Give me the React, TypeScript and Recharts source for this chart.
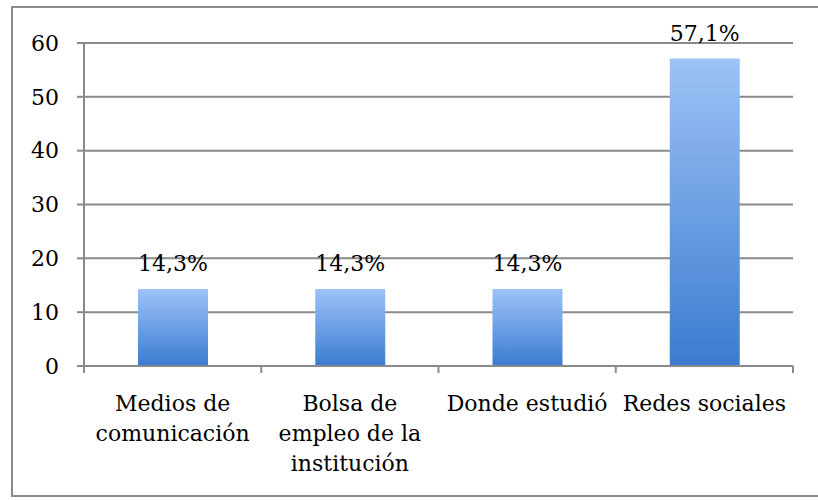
import React from 'react';
import { BarChart, Bar, XAxis, YAxis, CartesianGrid, LabelList } from 'recharts';

// categories as they appear under the bars (wrapped like the original)
const categories = ['Medios de comunicación', 'Bolsa de empleo de la institución', 'Donde estudió', 'Redes sociales'];
const categoryLines = [['Medios de', 'comunicación'], ['Bolsa de', 'empleo de la', 'institución'], ['Donde estudió'], ['Redes sociales']];
const percentages = [14.3, 14.3, 14.3, 57.1];
const yTicks = [0, 10, 20, 30, 40, 50, 60];

const W = 818;
const H = 500;
const MARGIN = { top: 43, right: 25, left: 14, bottom: 14 };
const Y_AXIS_W = 70;
const BAND = (W - MARGIN.left - MARGIN.right - Y_AXIS_W) / categories.length;

const FONT = '"DejaVu Serif", serif';
const GRAY = '#8a8a8a';

const chartData = categories.map((name, i) => ({ name, value: percentages[i], lines: categoryLines[i] }));

const fmtPct = (v: number) => `${v.toFixed(1).replace('.', ',')}%`;

// category label + tick marks at the band edges (like Excel)
const CategoryTick = (props: any) => {
  const { x, y, index } = props;
  const lines: string[] = categoryLines[index] || [];
  const half = BAND / 2;
  return (
    <g>
      <line x1={x + half} y1={y} x2={x + half} y2={y + 7} stroke={GRAY} strokeWidth={2} />
      {index === 0 && <line x1={x - half} y1={y} x2={x - half} y2={y + 7} stroke={GRAY} strokeWidth={2} />}
      <text x={x} y={y + 45} textAnchor="middle" fontFamily={FONT} fontSize={22} fill="#000">
        {lines.map((l, i) => (
          <tspan key={i} x={x} dy={i === 0 ? 0 : 30}>
            {l}
          </tspan>
        ))}
      </text>
    </g>
  );
};

export default function App() {
  return (
    <div style={{ position: 'absolute', left: 0, top: 0, width: W, height: H, background: '#fff' }}>
      <div
        style={{
          position: 'absolute',
          left: 11,
          top: 6,
          width: W - 11,
          height: 491,
          borderTop: `2px solid ${GRAY}`,
          borderLeft: `2px solid ${GRAY}`,
          borderBottom: `2px solid ${GRAY}`,
          boxSizing: 'border-box',
        }}
      />
      <div style={{ position: 'absolute', left: 0, top: 0 }}>
        <BarChart width={W} height={H} data={chartData} margin={MARGIN} barSize={70}>
          <defs>
            <linearGradient id="barGrad" x1="0" y1="0" x2="0" y2="1">
              <stop offset="0%" stopColor="#9dc3f7" />
              <stop offset="100%" stopColor="#3b7bcf" />
            </linearGradient>
          </defs>
          <CartesianGrid vertical={false} stroke={GRAY} strokeWidth={2} />
          <XAxis
            dataKey="name"
            interval={0}
            height={120}
            axisLine={{ stroke: GRAY, strokeWidth: 2 }}
            tickLine={false}
            tickSize={0}
            tickMargin={0}
            tick={<CategoryTick />}
          />
          <YAxis
            width={Y_AXIS_W}
            domain={[0, 60]}
            ticks={yTicks}
            interval={0}
            axisLine={{ stroke: GRAY, strokeWidth: 2 }}
            tickLine={{ stroke: GRAY, strokeWidth: 2 }}
            tickSize={7}
            tickMargin={18}
            tick={{ fontFamily: FONT, fontSize: 22, fill: '#000' }}
          />
          <Bar dataKey="value" fill="url(#barGrad)" isAnimationActive={false}>
            <LabelList
              dataKey="value"
              position="top"
              offset={18}
              formatter={(v: any) => fmtPct(Number(v))}
              style={{ fontFamily: FONT, fontSize: 22, fill: '#000' }}
            />
          </Bar>
        </BarChart>
      </div>
    </div>
  );
}
